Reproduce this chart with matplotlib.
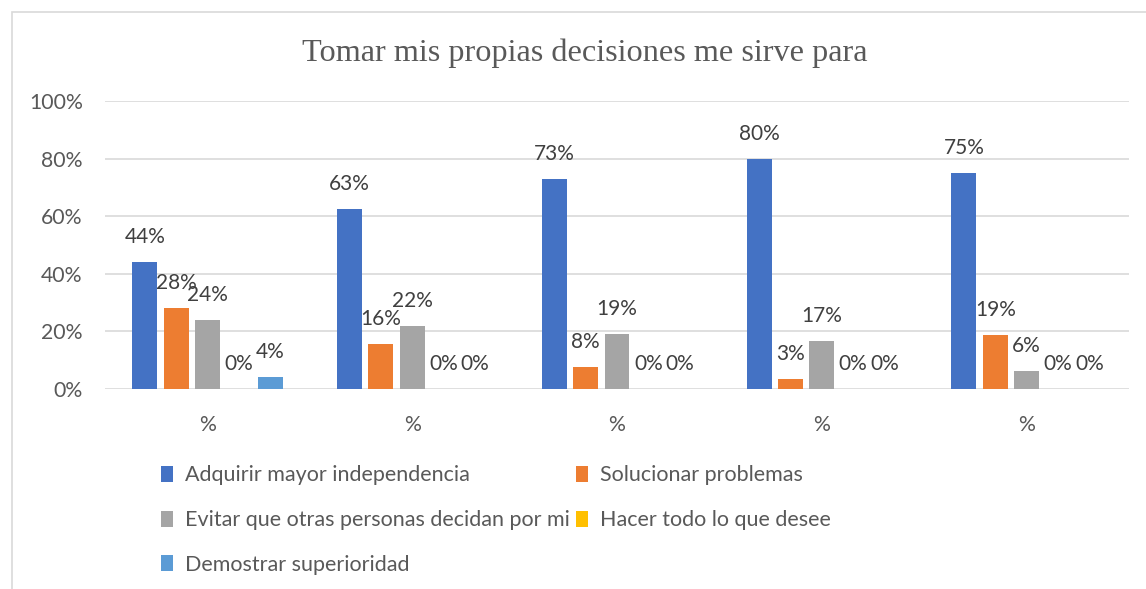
import numpy as np
import matplotlib.pyplot as plt
from matplotlib.patches import Rectangle

# datos
categorias = ['%', '%', '%', '%', '%']
series = ['Adquirir mayor independencia', 'Solucionar problemas',
          'Evitar que otras personas decidan por mi', 'Hacer todo lo que desee',
          'Demostrar superioridad']
adquirir = [0.44, 0.626, 0.73, 0.80, 0.75]
solucionar = [0.28, 0.156, 0.076, 0.034, 0.186]
evitar = [0.24, 0.218, 0.191, 0.167, 0.061]
hacer = [0.0, 0.0, 0.0, 0.0, 0.0]
demostrar = [0.04, 0.0, 0.0, 0.0, 0.0]
colores = ['#4472C4', '#ED7D31', '#A5A5A5', '#FFC000', '#5B9BD5']

valores = [adquirir, solucionar, evitar, hacer, demostrar]

fig = plt.figure(figsize=(11.46, 5.89), dpi=100)
ax = fig.add_axes([105/1146, 1-389/589, 1024/1146, 288/589])

# borde del area del grafico
fig.patches.append(Rectangle((12/1146, -0.05), 1.2, 1-12/589+0.05, transform=fig.transFigure,
                             fill=False, edgecolor='#d9d9d9', linewidth=1.2))

x = np.arange(len(categorias))
paso = 0.153
ancho = 0.122
fuente = 'Lato'
gris = '#595959'

barras = []
for i, (nombre, v) in enumerate(zip(series, valores)):
    b = ax.bar(x + (i-2)*paso, v, ancho, color=colores[i], label=nombre, linewidth=0, zorder=3)
    barras.append(b)
    for xi, vi in zip(x + (i-2)*paso, v):
        ax.annotate('{:.0f}%'.format(vi*100), (xi, vi), xytext=(0, 18), textcoords='offset points',
                    ha='center', va='center', fontsize=15, color='#404040', family=fuente)

ax.set_xlim(-0.5, 4.5)
ax.set_ylim(0, 1.0)
ax.set_yticks(np.arange(0, 1.01, 0.2))
ax.set_yticklabels(['{:.0f}%'.format(t*100) for t in np.arange(0, 1.01, 0.2)],
                   fontsize=15.3, color=gris, family=fuente)
ax.set_xticks(x)
ax.set_xticklabels(categorias, fontsize=15.3, color=gris, family=fuente)
ax.tick_params(axis='both', length=0)
ax.tick_params(axis='y', pad=16)
ax.tick_params(axis='x', pad=19)
ax.grid(axis='y', color='#d9d9d9', linewidth=1.2, zorder=0)
for s in ax.spines.values():
    s.set_visible(False)

fig.text(585/1146, 1-53/589, 'Tomar mis propias decisiones me sirve para', ha='center', va='center',
         fontsize=23.2, color=gris, family='Liberation Serif')

# leyenda en filas: el orden se reordena porque ncol llena por columnas
orden = [0, 2, 4, 1, 3]
leg = fig.legend([barras[i] for i in orden], [series[i] for i in orden], ncol=2,
                 loc='upper left', bbox_to_anchor=(142/1146, 1-446/589), frameon=False,
                 prop={'family': fuente, 'size': 15.5}, labelcolor=gris,
                 handlelength=0.55, handleheight=0.75, handletextpad=0.55,
                 columnspacing=0.3, labelspacing=1.15)

fig.savefig('out.png', dpi=100)
